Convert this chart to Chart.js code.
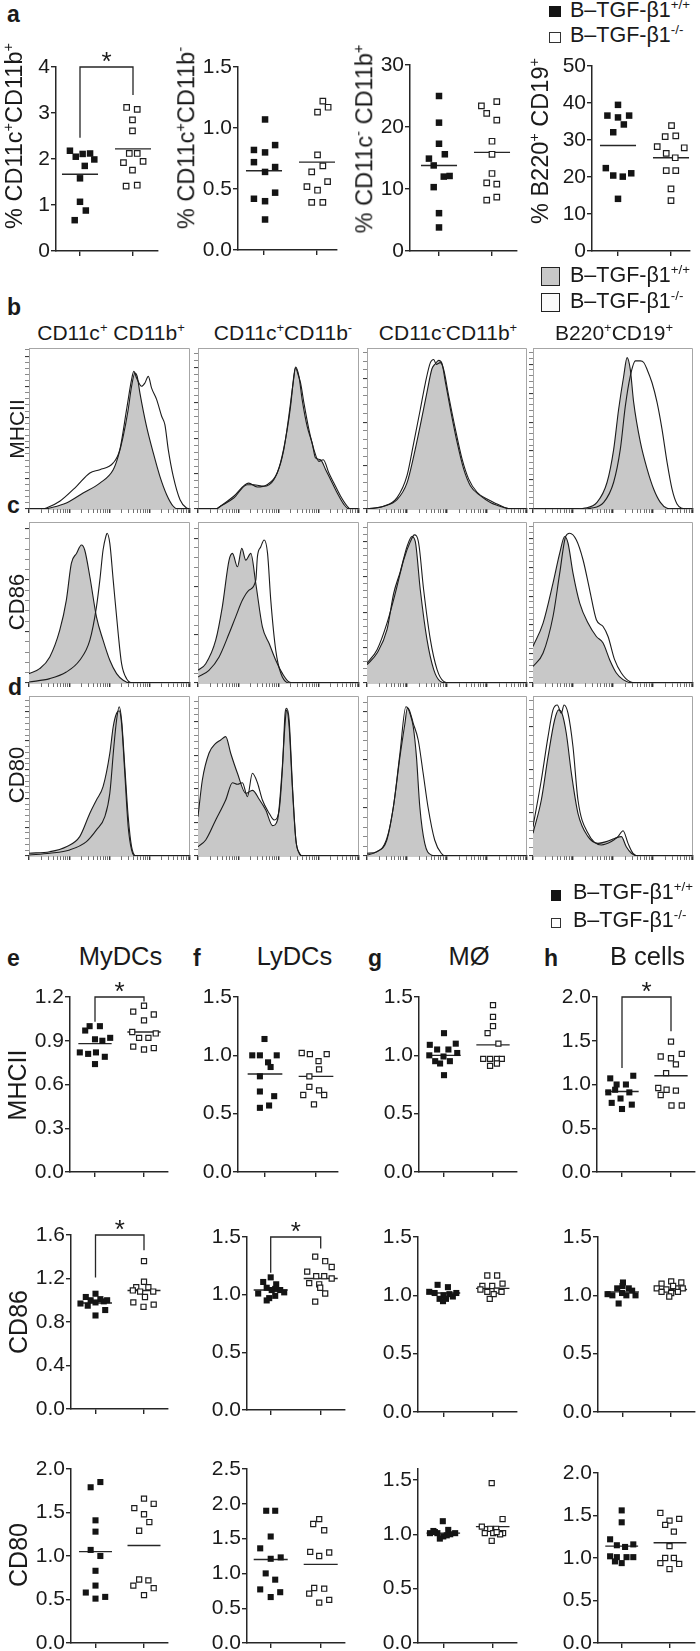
<!DOCTYPE html>
<html><head><meta charset="utf-8">
<script src="https://cdn.jsdelivr.net/npm/chart.js@4.4.1/dist/chart.umd.min.js"></script>
<style>
body{margin:0;background:#fff;}
#fig{position:relative;width:700px;height:1651px;overflow:hidden;font-family:"Liberation Sans",Arial,Helvetica,sans-serif;color:#1a1a1a;background:#fff;}
canvas{position:absolute;}
.t{position:absolute;white-space:nowrap;line-height:1;}
sup{font-size:0.62em;position:relative;top:-0.6em;vertical-align:baseline;line-height:0;}
.sq{position:absolute;box-sizing:border-box;}
</style></head>
<body><div id="fig"></div>
<script>
// ===================== DATA =====================
// Panel a: % of cells  ([jittered group position, value])
const a1_wt = [[0.81,2.18],[0.92,2.05],[1.05,2.11],[1.19,2.12],[1.27,1.99],[1.09,1.85],[1.00,1.58],[1.00,1.07],[1.11,0.88],[0.90,0.67]];
const a1_ko = [[1.88,3.12],[2.08,3.08],[1.99,2.85],[1.99,2.61],[1.82,1.92],[1.93,2.12],[2.08,2.12],[2.19,1.95],[1.99,1.76],[1.87,1.41],[2.08,1.43]];
const a1_mean = [1.67, 2.22];
const a1_sig = [2.46, 4.0, 3.39];

const a2_wt = [[1.02,1.07],[0.81,0.82],[1.02,0.80],[1.21,0.86],[0.81,0.72],[1.02,0.64],[1.21,0.68],[1.21,0.47],[0.81,0.42],[1.02,0.40],[1.02,0.25]];
const a2_ko = [[2.01,1.13],[2.11,1.22],[2.21,1.17],[2.01,0.78],[2.11,0.69],[1.90,0.64],[2.20,0.56],[1.81,0.52],[2.01,0.49],[1.90,0.39],[2.11,0.39]];
const a2_mean = [0.65, 0.72];

const a3_wt = [[1.00,25.0],[1.00,20.7],[1.00,17.3],[0.81,14.9],[1.11,15.6],[0.90,13.8],[1.09,12.0],[1.20,12.1],[0.90,10.3],[1.00,6.1],[1.00,3.8]];
const a3_ko = [[1.80,23.4],[2.09,24.1],[1.90,22.2],[2.09,21.1],[2.00,17.7],[2.00,15.6],[2.00,12.5],[1.90,11.0],[2.09,10.8],[1.90,8.2],[2.09,8.7]];
const a3_mean = [13.8, 15.9];

const a4_wt = [[1.00,39.5],[0.80,36.6],[1.00,36.1],[1.21,36.6],[1.11,34.2],[0.91,32.1],[0.77,22.4],[0.91,20.4],[1.09,20.1],[1.25,21.0],[1.00,14.1]];
const a4_ko = [[2.01,33.9],[1.89,30.9],[2.09,31.1],[1.74,28.2],[2.25,27.9],[1.91,26.4],[2.08,25.2],[1.91,21.7],[2.09,21.7],[2.00,16.8],[2.00,13.6]];
const a4_mean = [28.5, 25.2];

// Panels e-h: relative expression
const e1_wt = [[0.89,1.00],[1.10,1.00],[0.80,0.97],[1.00,0.91],[1.31,0.92],[0.69,0.82],[0.86,0.81],[1.02,0.82],[1.20,0.79],[1.00,0.74],[1.15,0.90]];
const e1_ko = [[2.00,1.14],[1.78,1.10],[2.20,1.08],[2.00,1.04],[1.76,0.96],[1.90,0.92],[2.09,0.92],[2.24,0.95],[1.78,0.86],[2.00,0.84],[2.20,0.85]];
const e1_mean = [0.88, 0.96];
const e1_sig = [1.03, 1.2, 1.17];

const f1_wt = [[0.99,1.14],[0.75,1.00],[0.90,1.00],[1.23,1.00],[1.06,0.94],[1.11,0.90],[0.90,0.82],[0.90,0.69],[1.18,0.65],[0.90,0.55],[1.08,0.57]];
const f1_ko = [[1.72,1.02],[1.88,1.01],[2.21,1.01],[2.05,0.95],[2.06,0.88],[1.87,0.82],[1.87,0.73],[2.06,0.70],[1.75,0.66],[2.16,0.66],[1.96,0.58]];
const f1_mean = [0.84, 0.82];

const g1_wt = [[1.00,1.19],[0.71,1.09],[1.24,1.10],[0.86,1.05],[1.09,1.05],[0.70,1.00],[0.99,0.99],[1.27,1.02],[0.82,0.95],[1.12,0.95],[0.92,0.93],[1.00,0.83]];
const g1_ko = [[2.00,1.43],[2.00,1.33],[2.00,1.25],[1.89,1.19],[2.11,1.10],[1.80,0.97],[1.94,0.97],[2.08,0.97],[2.18,0.97],[1.94,0.91],[2.08,0.93]];
const g1_mean = [1.00, 1.09];

const h1_wt = [[1.23,1.10],[0.76,1.07],[0.89,1.00],[1.08,1.00],[0.86,0.94],[1.15,0.91],[0.72,0.91],[0.97,0.84],[0.79,0.79],[1.20,0.77],[1.00,0.72]];
const h1_ko = [[2.00,1.49],[1.79,1.32],[2.00,1.30],[2.22,1.35],[2.10,1.23],[1.90,1.13],[1.74,0.96],[1.91,0.94],[2.10,0.93],[1.79,0.88],[2.01,0.76],[2.22,0.76]];
const h1_mean = [0.92, 1.10];
const h1_sig = [1.19, 2.0, 1.61];

const e2_wt = [[1.00,1.06],[0.80,1.03],[1.10,1.01],[1.24,1.00],[1.17,0.99],[0.69,0.97],[0.84,0.95],[1.00,0.98],[0.90,1.00],[1.20,0.91],[1.00,0.86]];
const e2_ko = [[2.00,1.36],[2.00,1.17],[1.84,1.12],[2.09,1.12],[2.19,1.08],[1.92,1.08],[1.77,1.09],[2.02,1.03],[1.78,0.98],[1.99,0.94],[2.20,0.96]];
const e2_mean = [0.975, 1.09];
const e2_sig = [1.21, 1.6, 1.46];

const f2_wt = [[1.00,1.15],[0.85,1.11],[1.11,1.09],[0.92,1.06],[1.09,1.05],[1.02,1.04],[1.19,1.04],[1.27,1.02],[0.75,1.01],[1.09,0.99],[0.97,0.97],[0.92,0.95]];
const f2_ko = [[1.89,1.33],[2.09,1.29],[2.22,1.24],[1.73,1.20],[1.91,1.16],[2.07,1.16],[2.22,1.14],[1.77,1.10],[1.97,1.09],[1.99,1.06],[2.09,1.01],[1.89,0.94]];
const f2_mean = [1.04, 1.14];
const f2_sig = [1.19, 1.5, 1.40];

const g2_wt = [[0.88,1.09],[1.09,1.07],[0.71,1.03],[1.26,1.02],[0.82,1.02],[1.00,1.00],[1.12,1.01],[0.92,0.97],[1.05,0.97],[0.99,0.95],[1.19,0.99]];
const g2_ko = [[1.89,1.17],[2.09,1.17],[1.79,1.08],[1.99,1.08],[2.20,1.10],[1.75,1.05],[2.08,1.04],[2.18,1.03],[1.89,1.03],[1.94,0.97],[2.02,1.01]];
const g2_mean = [1.02, 1.06];

const h2_wt = [[1.01,1.11],[0.89,1.06],[1.13,1.06],[0.79,1.00],[0.99,1.02],[1.27,1.00],[1.20,1.04],[0.92,0.93],[1.08,1.00],[0.69,1.01],[1.00,1.08]];
const h2_ko = [[2.01,1.12],[1.81,1.10],[2.22,1.11],[1.71,1.06],[1.91,1.05],[2.12,1.06],[2.25,1.06],[1.81,1.03],[2.01,1.02],[1.97,0.99],[2.15,1.03],[2.05,1.08]];
const h2_mean = [1.03, 1.05];

const e3_wt = [[1.10,1.85],[0.90,1.79],[1.00,1.41],[1.00,1.28],[0.90,1.07],[1.10,1.00],[1.00,0.83],[1.00,0.66],[0.80,0.58],[1.00,0.51],[1.20,0.53]];
const e3_ko = [[2.00,1.66],[1.80,1.55],[2.20,1.60],[2.00,1.48],[2.11,1.39],[1.90,1.29],[1.90,0.73],[2.09,0.72],[1.78,0.66],[2.20,0.63],[2.00,0.55]];
const e3_mean = [1.05, 1.12];

const f3_wt = [[0.91,1.90],[1.09,1.90],[1.00,1.53],[0.79,1.36],[1.00,1.21],[1.20,1.23],[0.90,1.00],[1.09,0.91],[0.79,0.77],[1.19,0.73],[1.00,0.66]];
const f3_ko = [[1.97,1.78],[1.85,1.71],[2.07,1.62],[1.79,1.31],[1.97,1.25],[2.17,1.30],[1.87,0.79],[2.07,0.78],[1.77,0.71],[1.97,0.58],[2.17,0.62]];
const f3_mean = [1.20, 1.13];

const g3_wt = [[0.99,1.12],[0.73,1.01],[0.88,1.01],[1.10,1.04],[1.24,1.01],[0.83,1.02],[1.00,0.98],[0.93,0.96],[1.14,1.00],[1.07,0.99],[0.80,1.03]];
const g3_ko = [[1.98,1.47],[2.20,1.14],[1.78,1.07],[1.95,1.05],[2.07,1.05],[1.84,1.01],[2.01,1.01],[2.21,1.01],[2.15,1.00],[1.98,0.94],[2.08,1.02]];
const g3_mean = [1.01, 1.07];

const h3_wt = [[1.00,1.56],[1.00,1.42],[0.76,1.22],[0.90,1.15],[1.07,1.13],[1.24,1.16],[0.76,1.02],[0.90,1.01],[1.10,1.01],[1.24,1.01],[1.00,0.94],[0.86,0.96]];
const h3_ko = [[1.80,1.53],[1.99,1.44],[2.19,1.46],[1.90,1.39],[2.08,1.31],[1.99,1.14],[1.90,1.00],[2.08,1.00],[1.80,0.94],[2.19,0.93],[1.99,0.87]];
const h3_mean = [1.14, 1.18];

// Histograms: [fluorescence (% of axis), cell count (% of max scale)]
const hb1_g = [[0,0],[10,0],[12.9,0.6],[23.2,3.7],[33.6,9.9],[44,16.1],[52.3,24.4],[55.4,32.7],[58.5,45.1],[61.6,61.7],[63.7,76.2],[65.8,84.5],[67.2,82.4],[68.9,72],[73,51.3],[77.2,34.8],[81.3,20.3],[85.5,8.9],[89.6,1.7],[92.7,0],[100,0]];
const hb1_o = [[0,0],[8,0],[10.8,0.6],[19.1,4.8],[29.5,14.1],[37.8,22.4],[44,24.4],[52.3,28.6],[56.4,36.9],[60.6,61.7],[63.7,80.3],[65.1,85.5],[66.8,81.4],[69.9,76.2],[72,78.3],[74.1,82.4],[76.1,75.2],[79.3,67.9],[82.4,57.6],[84.4,52.4],[86.5,36.9],[89.6,20.3],[93.8,5.8],[97.9,0.6],[100,0]];
const hb2_g = [[0,0],[11,0],[13.9,1.7],[22.2,6.8],[30.5,15.1],[34.6,15.1],[40.9,14.1],[47.1,18.2],[51.2,28.6],[55.4,49.3],[57.5,63.8],[59.5,82.4],[60.6,88.2],[62.7,82.4],[64.7,67.9],[67.8,51.3],[70.9,41],[73,31.7],[76.1,30.6],[79.3,24.4],[82.4,18.2],[86.5,9.9],[90.7,2.7],[93.8,0],[100,0]];
const hb2_o = [[0,0],[11,0],[13.9,1.7],[22.2,7.9],[31.5,16.1],[36.7,13.7],[42.9,15.1],[49.2,22.4],[53.3,36.9],[56.4,57.6],[59.1,78.3],[60.6,87.6],[62.2,83.4],[63.7,78.3],[65.8,65.8],[68.9,49.3],[72,36.9],[75.1,29.6],[77.8,30.6],[81.3,22.4],[84.4,16.1],[88.6,7.9],[92.7,1.7],[94.8,0],[100,0]];
const hb3_g = [[0,0],[10.4,1.7],[18.8,5.8],[25,16.2],[29.2,32.8],[33.3,51.9],[37.5,72.6],[40.6,87.1],[42.7,90.2],[44.8,92.3],[46.9,90.2],[49,78.8],[52.1,62.2],[56.3,41.5],[60.4,24.9],[64.6,14.5],[70.8,8.3],[77.1,4.1],[85.4,1],[89.6,0],[100,0]];
const hb3_o = [[0,0],[10.4,1.7],[18.8,7.1],[25,20.7],[29.2,41.1],[33.3,61.8],[36.5,78.4],[39.6,90.9],[41.7,92.9],[43.3,89.8],[45.8,90.9],[47.9,86.7],[51,70.5],[55.2,49.8],[59.4,31.1],[63.5,18.7],[68.8,10.4],[75,6.2],[81.3,3.1],[87.5,0.4],[92,0],[100,0]];
const hb4_g = [[0,0],[28,0],[31.7,0.4],[40,4.1],[46.3,16.6],[50.4,36.9],[53.5,61.8],[56.7,82.6],[58.8,94],[60.8,86.7],[62.9,66.4],[67.1,41.5],[71.3,24.9],[75.4,12.4],[79.6,4.1],[83.8,0.4],[87,0],[100,0]];
const hb4_o = [[0,0],[32,0],[35.8,0.4],[44.2,4.1],[50.4,16.6],[54.6,37.3],[57.7,63.9],[60.8,82.6],[64,92],[67.1,92],[69.2,91],[71.3,86.7],[74.4,78.4],[77.5,66.4],[80.6,49.8],[83.8,29],[86.9,12.4],[90,3.1],[93.1,0.4],[96,0],[100,0]];

const hc1_g = [[0,5.8],[6.6,8.9],[12.9,16.2],[19.1,32.8],[23.2,51.5],[26.3,74.3],[29.5,80.5],[32.6,85.7],[34.6,82.6],[37.8,66],[41.9,41.1],[46,26.6],[50.2,14.1],[54.4,5.8],[58.5,1.7],[62.7,0],[100,0]];
const hc1_o = [[0,0.6],[12.9,2.7],[23.2,6.8],[31.5,14.1],[37.8,26.6],[41.9,47.3],[44,63.9],[46,82.6],[47.7,90.9],[48.5,93],[50.2,86.7],[52.3,63.9],[55.4,30.7],[57.5,12],[60.6,2.7],[64.7,0],[100,0]];
const hc2_g = [[0,7.9],[4.8,12],[11,26.6],[15.1,47.3],[19.3,76.3],[21.4,80.5],[24.5,72.2],[27.2,83.6],[29.7,76.3],[32.8,80.5],[35.9,61.8],[40,34.9],[44.2,24.5],[48.3,14.1],[52.5,5.8],[56.6,0.6],[60,0],[100,0]];
const hc2_o = [[0,3.7],[6.8,7.9],[13.1,16.2],[19.3,30.7],[23.4,41.1],[27.6,51.5],[31.7,57.7],[35.9,63.9],[36.9,78.4],[39,84.6],[41.1,88.8],[43.2,80.5],[45.2,51.5],[48.3,20.3],[51.5,5.8],[56.6,0],[100,0]];
const hc3_g = [[0,11.4],[6.3,18.6],[12.5,33.1],[16.7,55.8],[20.8,69.2],[25,84.7],[28.1,91],[30.2,87.8],[33.3,57.9],[37.5,26.9],[41.7,8.3],[45.8,1],[50,0],[100,0]];
const hc3_o = [[0,12.4],[6.3,20.7],[12.5,37.2],[17.7,55.8],[22.9,76.4],[27.1,87.8],[29.6,92],[32.3,86.8],[35.4,57.9],[39.6,26.9],[43.8,8.3],[47.9,1],[52.1,0],[100,0]];
const hc4_g = [[0,22.7],[6.3,37.2],[12.5,62],[16.7,80.6],[19.8,91],[21.9,86.8],[25,68.2],[29.2,49.6],[34.4,37.2],[39.6,28.9],[43.8,24.8],[47.9,14.5],[52.1,6.2],[56.3,2.1],[62.5,0],[100,0]];
const hc4_o = [[0,10.3],[6.3,18.6],[12.5,41.3],[16.7,68.2],[20.4,91],[22.9,93],[27.1,88.8],[31.3,76.4],[35.4,57.9],[39.6,39.3],[43.8,35.1],[46.9,28.9],[51,14.5],[55.2,6.2],[60.4,1],[66.7,0],[100,0]];

const hd1_g = [[0,1.7],[12.9,2.7],[23.2,5.8],[31.5,12.1],[37.8,26.7],[41.9,35],[46,43.3],[50.2,64.2],[52.3,80.8],[54.4,89.2],[56,90.8],[57.5,82.9],[59.5,51.7],[61.6,18.3],[63.7,3.8],[65.8,0],[100,0]];
const hd1_o = [[0,0.6],[12.9,1.7],[25.3,3.8],[35.7,9],[41.9,16.3],[47.1,24.6],[50.2,39.2],[52.7,68.3],[54.4,85],[56,93.3],[57.5,85],[59.5,55.8],[61.6,24.6],[63.7,5.8],[66.4,0],[100,0]];
const hd2_g = [[0,24.6],[2.7,47.5],[6.8,64.2],[11,70.4],[14.1,72.5],[17.2,74.6],[20.3,64.2],[24.5,51.7],[29.7,39.2],[33.8,41],[38,35.5],[42.1,28.7],[46.3,19],[49.4,22.5],[52.1,51.7],[54.1,82.9],[55,91.3],[56.6,80.8],[58.7,41.3],[60.8,10],[62.9,1.7],[64.9,0],[100,0]];
const hd2_o = [[0,5.8],[4.8,10],[11,22.5],[17.2,35],[21.4,45.8],[24.5,44.8],[27.6,45.8],[30.7,37.1],[33.8,51.7],[36.9,45.8],[40,35],[44.2,26.7],[47.3,22.5],[50.4,28.7],[52.5,55.8],[54.1,89.2],[55,92.3],[56.6,85],[58.7,43.3],[60.8,10],[62.9,1.7],[64.9,0],[100,0]];
const hd3_g = [[0,0.6],[6.2,2.7],[12.4,10],[16.5,30.8],[20.6,62.1],[23.7,82.9],[25.2,92.3],[26.8,89.2],[28.9,80.8],[30.9,62.1],[33,30.8],[36.1,7.9],[40.2,0.6],[43,0],[100,0]];
const hd3_o = [[0,1.7],[6.2,2.7],[12.4,11],[16.5,30.8],[20.6,64.2],[24.3,93.3],[26.4,91.3],[28.9,82.9],[32,72.5],[35.1,51.7],[38.1,30.8],[42.3,10],[46.4,1.7],[49.5,0],[100,0]];
const hd4_g = [[0,14.2],[5.2,35],[9.4,62.1],[13.5,85],[16,91.3],[18.1,89.2],[20.8,76.7],[24,51.7],[28.1,26.7],[34.4,12.1],[40.6,7.9],[45.8,9],[51,11],[55.2,12.1],[58.3,5.8],[61.5,1.7],[65.6,0],[100,0]];
const hd4_o = [[0,18.3],[5.2,47.5],[9.4,74.6],[12.5,91.3],[15.2,94.4],[17.7,89.2],[19.4,94.4],[21.9,89.2],[25,68.3],[28.1,35],[34.4,14.2],[42.7,6.9],[49,9],[53.1,12.1],[56.3,15.8],[59.4,7.9],[62.5,1.7],[66.7,0],[100,0]];

// ===================== SETUP =====================
const FONT = '"Liberation Sans", Arial, Helvetica, sans-serif';
Chart.defaults.font.family = FONT;
Chart.defaults.color = '#1a1a1a';
Chart.defaults.animation = false;
Chart.defaults.plugins.legend.display = false;
Chart.defaults.plugins.tooltip.enabled = false;
const fig = document.getElementById('fig');
const INK = '#262626';

function mount(cfg, L, T, W, H, pad) {
  const cv = document.createElement('canvas');
  cv.width = W + pad.l + pad.r; cv.height = H + pad.t + pad.b;
  cv.style.width = cv.width + 'px'; cv.style.height = cv.height + 'px';
  cv.style.left = (L - pad.l) + 'px'; cv.style.top = (T - pad.t) + 'px';
  fig.appendChild(cv);
  cfg.options.responsive = false;
  cfg.options.events = [];
  const ch = new Chart(cv, cfg);
  const a = ch.chartArea;
  cv.style.left = (L - a.left) + 'px';
  cv.style.top = (T - a.top) + 'px';
  return ch;
}

const starPlugin = {
  id: 'star',
  afterDatasetsDraw(chart, args, opts) {
    if (!opts || !opts.sig) return;
    const c = chart.ctx, xs = chart.scales.x, ys = chart.scales.y;
    c.save();
    c.fillStyle = '#1a1a1a';
    c.font = '26px ' + FONT;
    c.textAlign = 'center';
    c.textBaseline = 'alphabetic';
    c.fillText('*', xs.getPixelForValue(1.5), ys.getPixelForValue(opts.sig[1]) + opts.off);
    c.restore();
  }
};

function scatter(Lay, wt, ko, mean, sig) {
  const pad = {l: 48, r: 8, t: 18, b: 18};
  const W = Lay.R - Lay.L, H = Lay.B - Lay.T;
  const unit = Lay.t2 - Lay.t1;
  const xmin = 1 - (Lay.t1 - Lay.L) / unit, xmax = 2 + (Lay.R - Lay.t2) / unit;
  const hw = 0.34;
  const ds = [
    {data: wt.map(p => ({x: p[0], y: p[1]})), pointStyle: 'rect', pointRadius: Lay.rf, backgroundColor: '#141414', borderColor: '#141414', borderWidth: 0, showLine: false, clip: false},
    {data: ko.map(p => ({x: p[0], y: p[1]})), pointStyle: 'rect', pointRadius: Lay.ro, backgroundColor: '#ffffff', borderColor: '#1e1e1e', borderWidth: 1.2, showLine: false, clip: false},
    {data: [{x: 1 - hw, y: mean[0]}, {x: 1 + hw, y: mean[0]}], showLine: true, borderColor: INK, borderWidth: 1.4, pointRadius: 0, clip: false},
    {data: [{x: 2 - hw, y: mean[1]}, {x: 2 + hw, y: mean[1]}], showLine: true, borderColor: INK, borderWidth: 1.4, pointRadius: 0, clip: false}
  ];
  if (sig) ds.push({data: [{x: 1, y: sig[0]}, {x: 1, y: sig[1]}, {x: 2, y: sig[1]}, {x: 2, y: sig[2]}], showLine: true, borderColor: INK, borderWidth: 1.3, pointRadius: 0, clip: false, tension: 0});
  const cfg = {
    type: 'scatter',
    data: {datasets: ds},
    options: {
      layout: {padding: {left: 0, right: pad.r, top: pad.t, bottom: 0}},
      scales: {
        x: {type: 'linear', min: xmin, max: xmax,
            afterBuildTicks: s => { s.ticks = [{value: 1}, {value: 2}]; },
            ticks: {display: false},
            grid: {drawOnChartArea: false, tickLength: 5, color: INK, lineWidth: 1.4},
            border: {color: INK, width: 1.5},
            afterFit: s => { s.height = pad.b; }},
        y: {type: 'linear', min: 0, max: Lay.ymax,
            afterBuildTicks: s => { const t = []; for (let v = 0; v <= Lay.ymax + 1e-9; v += Lay.step) t.push({value: +v.toFixed(6)}); s.ticks = t; },
            ticks: {callback: v => Number(v).toFixed(Lay.dec), font: {size: 21, family: FONT}, color: '#1a1a1a', padding: 1},
            grid: {drawOnChartArea: false, tickLength: 5, color: INK, lineWidth: 1.4},
            border: {color: INK, width: 1.5},
            afterFit: s => { s.width = pad.l; }}
      },
      plugins: {star: {sig: sig, off: 3}}
    },
    plugins: [starPlugin]
  };
  return mount(cfg, Lay.L, Lay.T, W, H, pad);
}

const framePlugin = {
  id: 'frame',
  beforeDatasetsDraw(chart) {
    const a = chart.chartArea, c = chart.ctx;
    c.save();
    c.strokeStyle = '#a6a6a6'; c.lineWidth = 1;
    c.beginPath();
    c.moveTo(a.left, a.top + 0.5); c.lineTo(a.right - 0.5, a.top + 0.5); c.lineTo(a.right - 0.5, a.bottom);
    c.stroke();
    c.restore();
  }
};

function hist(box, gray, open, major) {
  const pad = {l: 6, r: 2, t: 2, b: 6};
  const W = box.R - box.L, H = box.B - box.T;
  const cfg = {
    type: 'scatter',
    data: {datasets: [
      {data: open.map(p => ({x: p[0], y: p[1]})), xAxisID: 'x', yAxisID: 'y', showLine: true, fill: false, borderColor: '#1c1c1c', borderWidth: 1.1, pointRadius: 0, tension: 0.4, cubicInterpolationMode: 'monotone'},
      {data: gray.map(p => ({x: p[0], y: p[1]})), xAxisID: 'x', yAxisID: 'y', showLine: true, fill: 'origin', backgroundColor: '#c8c8c8', borderColor: '#1c1c1c', borderWidth: 1.1, pointRadius: 0, tension: 0.4, cubicInterpolationMode: 'monotone'}
    ]},
    options: {
      layout: {padding: {left: 0, right: pad.r, top: pad.t, bottom: 0}},
      scales: {
        x: {type: 'linear', min: 0, max: 100, display: false},
        xt: {type: 'logarithmic', position: 'bottom', min: 10, max: 100000,
             afterBuildTicks: s => { const t = []; for (let e = 1; e < 5; e++) for (let k = 1; k < 10; k++) t.push({value: k * Math.pow(10, e)}); t.push({value: 100000}); s.ticks = t; },
             ticks: {display: false},
             grid: {drawOnChartArea: false, tickLength: 4, color: '#333',
                    lineWidth: c => { const v = c.tick ? c.tick.value : 1; const l = Math.log10(v); return Math.abs(l - Math.round(l)) < 1e-6 ? 1.4 : 0.7; }},
             border: {color: '#2a2a2a', width: 1.3},
             afterFit: s => { s.height = pad.b; }},
        y: {type: 'linear', min: 0, max: 100,
            afterBuildTicks: s => { const t = []; for (let v = 0; v <= 100 + 1e-9; v += major / 5) t.push({value: v}); s.ticks = t; },
            ticks: {display: false},
            grid: {drawOnChartArea: false, tickLength: 4, color: '#3a3a3a', lineWidth: c => (c.index % 5 === 0 ? 1.1 : 0.6)},
            border: {color: '#a6a6a6', width: 1},
            afterFit: s => { s.width = pad.l; }}
      }
    },
    plugins: [framePlugin]
  };
  return mount(cfg, box.L, box.T, W, H, pad);
}

// ---------- text helpers ----------
function txt(html, x, y, size, o) {
  o = o || {};
  const d = document.createElement('div');
  d.className = 't'; d.innerHTML = html;
  d.style.fontSize = size + 'px';
  d.style.left = x + 'px';
  d.style.top = (y - 0.847 * size) + 'px';
  if (o.bold) d.style.fontWeight = 'bold';
  if (o.align === 'center') d.style.transform = 'translateX(-50%)';
  fig.appendChild(d);
}
function rtxt(html, cx, cy, size) {
  const d = document.createElement('div');
  d.className = 't'; d.innerHTML = html;
  d.style.fontSize = size + 'px';
  d.style.left = cx + 'px'; d.style.top = cy + 'px';
  d.style.transform = 'translate(-50%,-50%) rotate(-90deg)';
  fig.appendChild(d);
}
function sq(x, y, w, h, bg, bd) {
  const d = document.createElement('div');
  d.className = 'sq';
  d.style.left = x + 'px'; d.style.top = y + 'px'; d.style.width = w + 'px'; d.style.height = h + 'px';
  d.style.background = bg;
  if (bd) d.style.border = bd;
  fig.appendChild(d);
}

// ===================== LAYOUT =====================
const LA = {rf: 4.6, ro: 3.9};
const LE = {rf: 4.3, ro: 3.6};
scatter(Object.assign({L: 56, T: 67, R: 158, B: 251, t1: 80, t2: 133, ymax: 4, step: 1, dec: 0}, LA), a1_wt, a1_ko, a1_mean, a1_sig);
scatter(Object.assign({L: 238, T: 67, R: 337, B: 250, t1: 264, t2: 317, ymax: 1.5, step: 0.5, dec: 1}, LA), a2_wt, a2_ko, a2_mean, null);
scatter(Object.assign({L: 410, T: 65, R: 517, B: 251, t1: 439, t2: 492, ymax: 30, step: 10, dec: 0}, LA), a3_wt, a3_ko, a3_mean, null);
scatter(Object.assign({L: 592, T: 66, R: 690, B: 251, t1: 618, t2: 671, ymax: 50, step: 10, dec: 0}, LA), a4_wt, a4_ko, a4_mean, null);

scatter(Object.assign({L: 70, T: 997, R: 168, B: 1172, t1: 95, t2: 144, ymax: 1.2, step: 0.3, dec: 1}, LE), e1_wt, e1_ko, e1_mean, e1_sig);
scatter(Object.assign({L: 238, T: 997, R: 338, B: 1172, t1: 265, t2: 316, ymax: 1.5, step: 0.5, dec: 1}, LE), f1_wt, f1_ko, f1_mean, null);
scatter(Object.assign({L: 419, T: 997, R: 517, B: 1172, t1: 444, t2: 493, ymax: 1.5, step: 0.5, dec: 1}, LE), g1_wt, g1_ko, g1_mean, null);
scatter(Object.assign({L: 597, T: 997, R: 695, B: 1172, t1: 622, t2: 671, ymax: 2.0, step: 0.5, dec: 1}, LE), h1_wt, h1_ko, h1_mean, h1_sig);

scatter(Object.assign({L: 71, T: 1235, R: 168, B: 1409, t1: 95.5, t2: 144, ymax: 1.6, step: 0.4, dec: 1}, LE), e2_wt, e2_ko, e2_mean, e2_sig);
scatter(Object.assign({L: 247, T: 1237, R: 345, B: 1410, t1: 270.7, t2: 320.7, ymax: 1.5, step: 0.5, dec: 1}, LE), f2_wt, f2_ko, f2_mean, f2_sig);
scatter(Object.assign({L: 418, T: 1237, R: 517, B: 1412, t1: 443.5, t2: 492.7, ymax: 1.5, step: 0.5, dec: 1}, LE), g2_wt, g2_ko, g2_mean, null);
scatter(Object.assign({L: 598, T: 1237, R: 695, B: 1412, t1: 622.5, t2: 670.7, ymax: 1.5, step: 0.5, dec: 1}, LE), h2_wt, h2_ko, h2_mean, null);

scatter(Object.assign({L: 71, T: 1469, R: 168, B: 1643, t1: 95.5, t2: 144, ymax: 2.0, step: 0.5, dec: 1}, LE), e3_wt, e3_ko, e3_mean, null);
scatter(Object.assign({L: 247, T: 1469, R: 345, B: 1643, t1: 270.7, t2: 320.7, ymax: 2.5, step: 0.5, dec: 1}, LE), f3_wt, f3_ko, f3_mean, null);
scatter(Object.assign({L: 418, T: 1469, R: 517, B: 1643, t1: 443.3, t2: 492.7, ymax: 1.6, step: 0.5, dec: 1}, LE), g3_wt, g3_ko, g3_mean, null);
scatter(Object.assign({L: 598, T: 1473, R: 695, B: 1643, t1: 621.7, t2: 670, ymax: 2.0, step: 0.5, dec: 1}, LE), h3_wt, h3_ko, h3_mean, null);

// histogram boxes
const colL = [29, 198, 367, 533], colR = [190, 359, 527, 693];
const rowT = [348, 522, 696], rowB = [509, 683, 856];
const HG = [[hb1_g, hb2_g, hb3_g, hb4_g], [hc1_g, hc2_g, hc3_g, hc4_g], [hd1_g, hd2_g, hd3_g, hd4_g]];
const HO = [[hb1_o, hb2_o, hb3_o, hb4_o], [hc1_o, hc2_o, hc3_o, hc4_o], [hd1_o, hd2_o, hd3_o, hd4_o]];
const HM = [[19, 22, 27, 18], [32, 30, 22, 18], [18, 21, 30, 27]];
for (let r = 0; r < 3; r++) for (let c = 0; c < 4; c++)
  hist({L: colL[c], R: colR[c], T: rowT[r], B: rowB[r]}, HG[r][c], HO[r][c], HM[r][c]);

// ===================== TEXT =====================
// panel letters
txt('a', 7, 22, 23, {bold: true});
txt('b', 7, 315, 23, {bold: true});
txt('c', 7, 513, 23, {bold: true});
txt('d', 8, 695, 23, {bold: true});
txt('e', 7, 966, 23, {bold: true});
txt('f', 193, 966, 23, {bold: true});
txt('g', 368, 966, 23, {bold: true});
txt('h', 544, 966, 23, {bold: true});

// legend 1
sq(549, 6, 12, 11, '#141414');
txt('B&ndash;TGF-&beta;1<sup>+/+</sup>', 570, 18, 21.5);
sq(549, 32, 12, 11, '#fff', '1.2px solid #333');
txt('B&ndash;TGF-&beta;1<sup>-/-</sup>', 570, 43, 21.5);

// panel a y titles
rtxt('% CD11c<sup>+</sup>CD11b<sup>+</sup>', 15, 136, 23.5);
rtxt('% CD11c<sup>+</sup>CD11b<sup>-</sup>', 187, 138, 23.5);
rtxt('% CD11c<sup>-</sup> CD11b<sup>+</sup>', 365, 139, 23.5);
rtxt('% B220<sup>+</sup> CD19<sup>+</sup>', 541, 141, 23.5);

// legend 2
sq(541, 267, 19, 19, '#c8c8c8', '1.3px solid #222');
txt('B&ndash;TGF-&beta;1<sup>+/+</sup>', 570, 283, 21.5);
sq(541, 293, 19, 19, '#fafafa', '1.3px solid #222');
txt('B&ndash;TGF-&beta;1<sup>-/-</sup>', 570, 309, 21.5);

// histogram column titles
txt('CD11c<sup>+</sup> CD11b<sup>+</sup>', 111, 340, 21, {align: 'center'});
txt('CD11c<sup>+</sup>CD11b<sup>-</sup>', 283, 340, 21, {align: 'center'});
txt('CD11c<sup>-</sup>CD11b<sup>+</sup>', 448, 340, 21, {align: 'center'});
txt('B220<sup>+</sup>CD19<sup>+</sup>', 614, 340, 21, {align: 'center'});

// histogram row labels
rtxt('MHCII', 16, 429, 21);
rtxt('CD86', 16.5, 602, 22);
rtxt('CD80', 16.5, 775, 22);

// legend 3
sq(551, 890, 10, 11, '#141414');
txt('B&ndash;TGF-&beta;1<sup>+/+</sup>', 573, 900, 21.5);
sq(551, 918, 10, 10, '#fff', '1.2px solid #333');
txt('B&ndash;TGF-&beta;1<sup>-/-</sup>', 573, 928, 21.5);

// e-h titles
txt('MyDCs', 120.5, 966, 25.5, {align: 'center'});
txt('LyDCs', 294.5, 966, 25.5, {align: 'center'});
txt('M&Oslash;', 469, 966, 25.5, {align: 'center'});
txt('B cells', 647.5, 966, 25.5, {align: 'center'});

// e-h row labels
rtxt('MHCII', 16.5, 1085, 25);
rtxt('CD86', 17.5, 1322, 25);
rtxt('CD80', 17.5, 1555, 25);
</script>
</body></html>
